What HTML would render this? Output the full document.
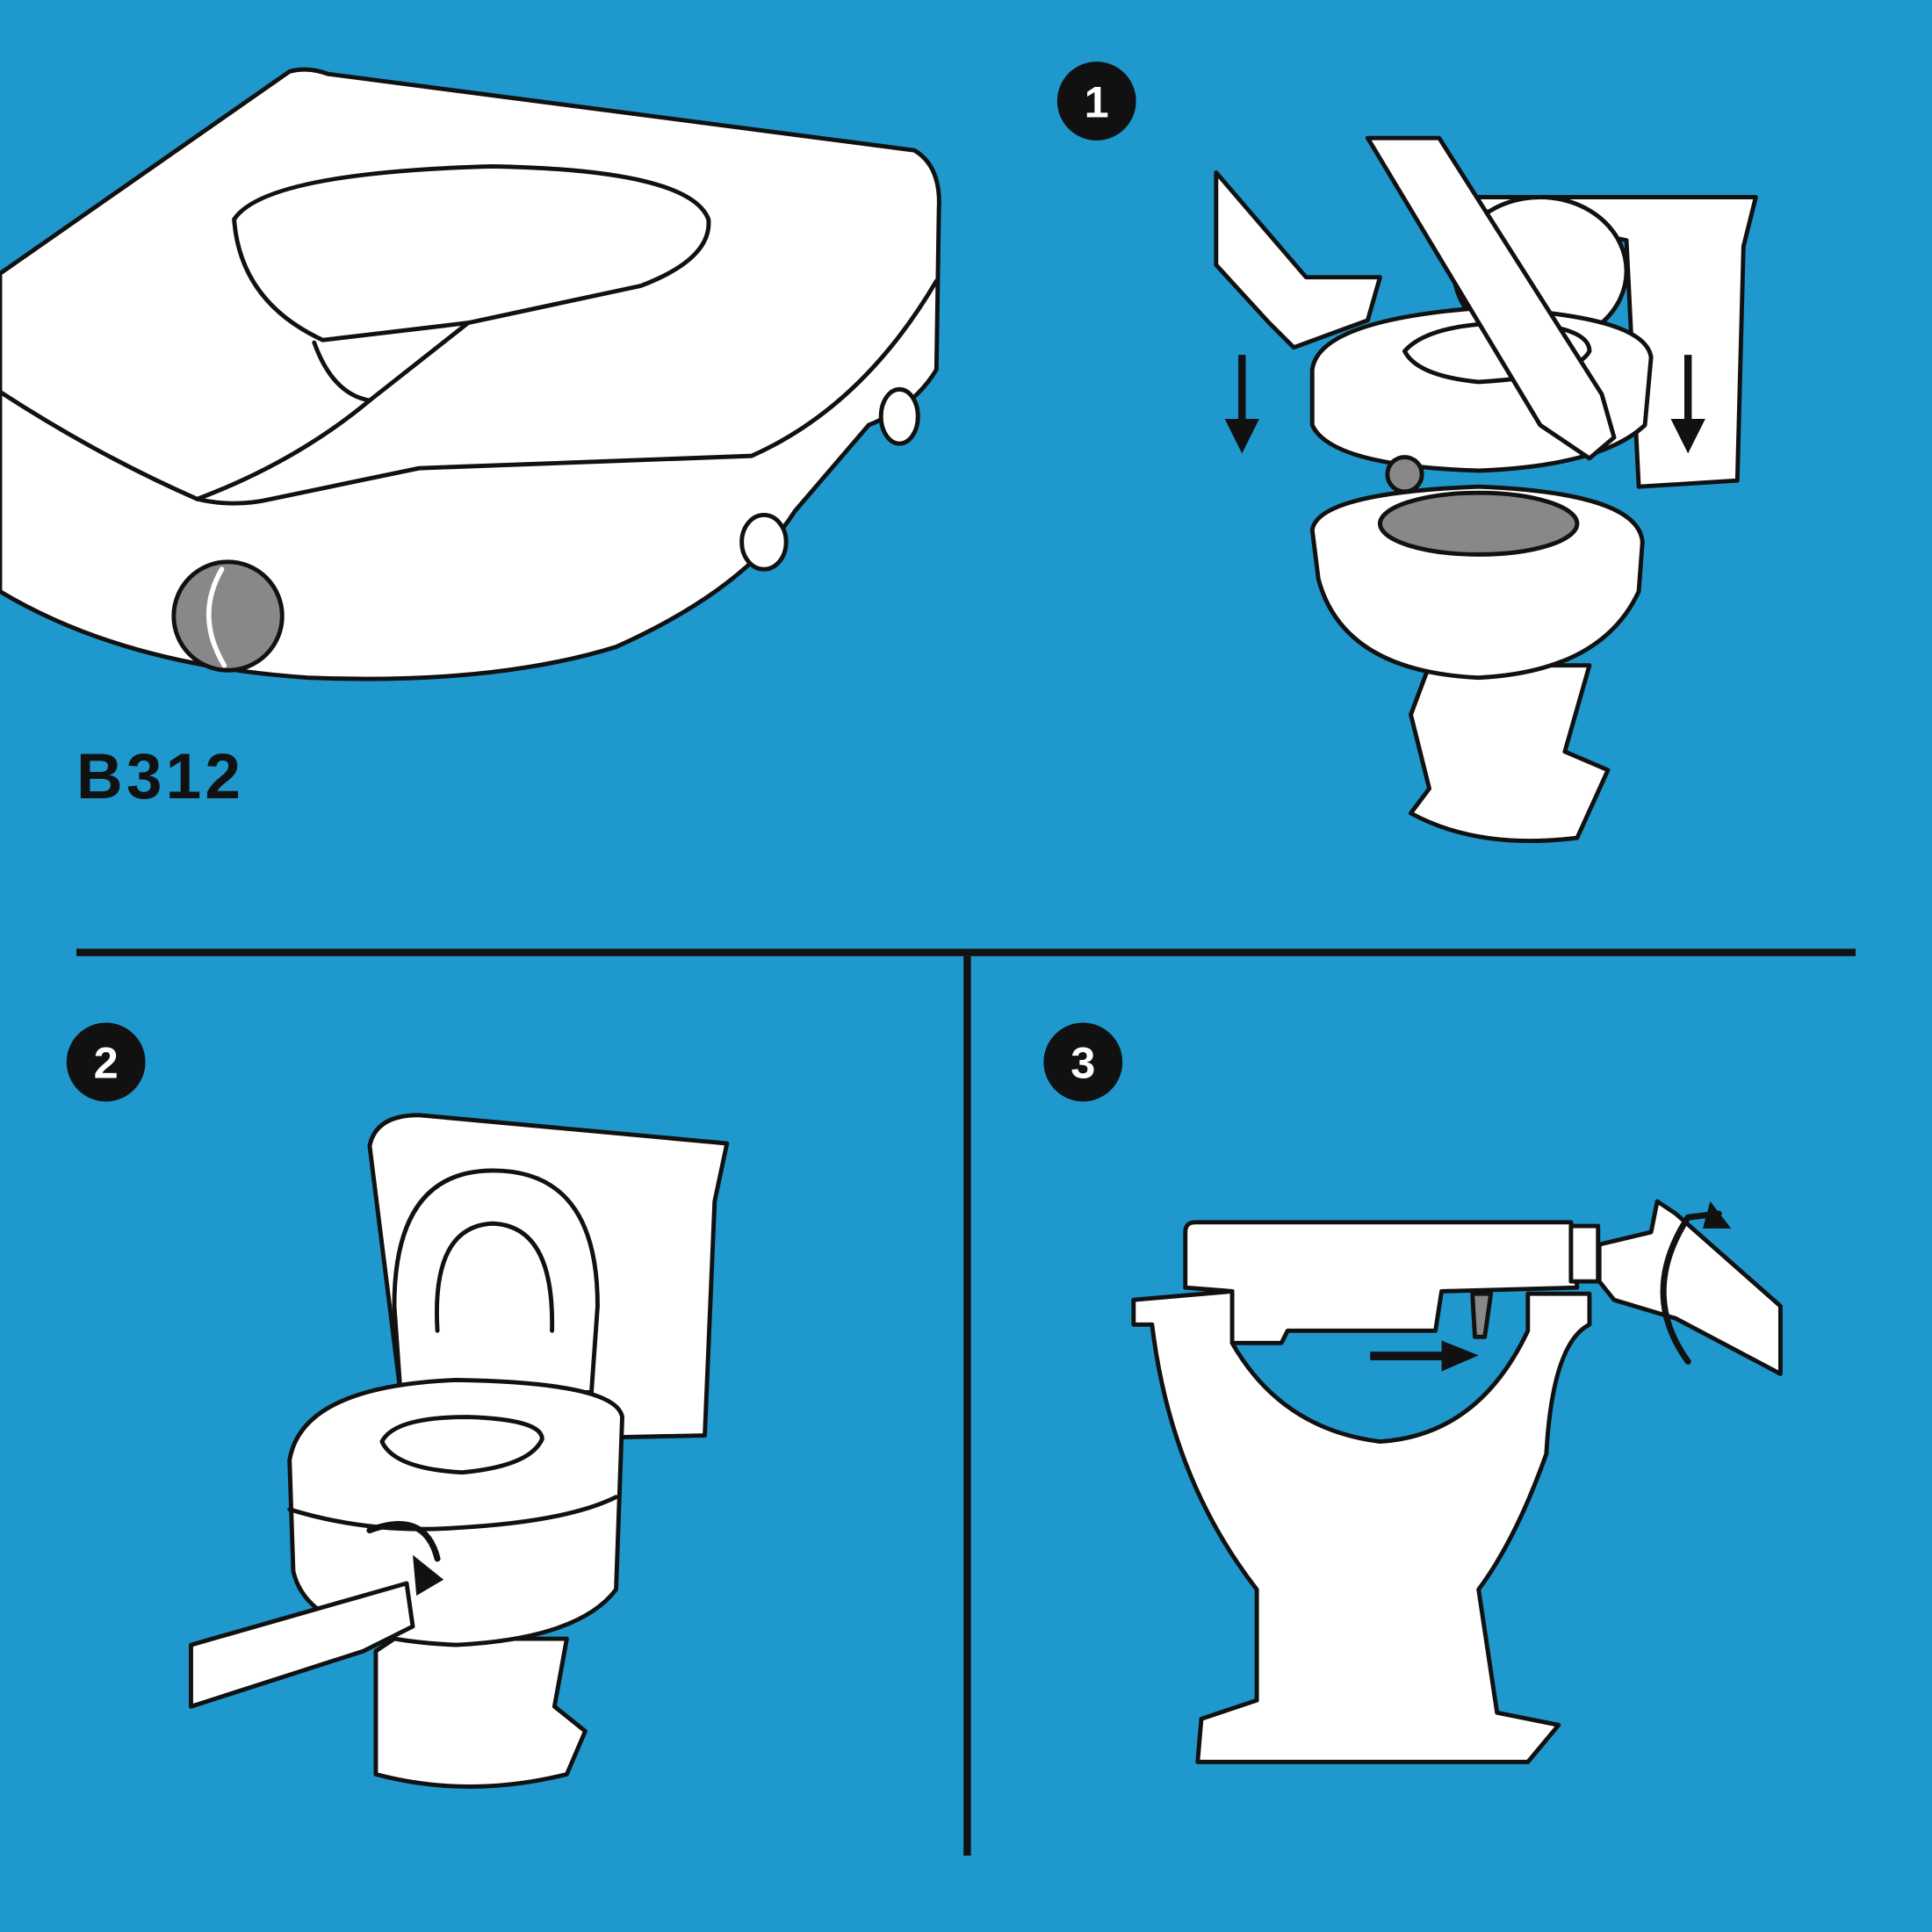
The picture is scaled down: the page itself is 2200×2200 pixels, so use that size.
<!DOCTYPE html>
<html><head><meta charset="utf-8"><style>html,body{margin:0;padding:0;background:#1f99cd}svg{display:block}</style></head>
<body>
<svg width="2200" height="2200" viewBox="0 0 1568 1568" xmlns="http://www.w3.org/2000/svg">
<rect width="1568" height="1568" fill="#1f99cd"/>
<g stroke="#111" stroke-width="3.5" stroke-linejoin="round" stroke-linecap="round">
<path d="M0,222 L235,58 Q250,54 266,60 L742,122 Q764,135 762,170 L760,300 Q742,330 705,345 L645,415 Q605,478 500,525 Q400,556 250,550 Q100,540 0,480 Z" fill="#fff"/>
<path d="M0,318 Q80,370 160,405 Q190,412 220,405 L340,380 Q480,375 610,370 Q700,330 760,228" fill="none"/>
<path d="M190,178 Q215,140 400,135 Q560,138 575,178 Q578,210 520,232 L380,262 L262,276 Q195,245 190,178 Z" fill="#fff"/>
<path d="M255,278 Q270,320 300,325 L380,262 M300,325 Q240,375 160,405" fill="none"/>
<circle cx="185" cy="500" r="44" fill="#888"/>
<path d="M180,462 Q158,500 182,540" stroke="#fff" stroke-width="4" fill="none"/>
<ellipse cx="730" cy="338" rx="15" ry="22" fill="#fff"/>
<ellipse cx="620" cy="440" rx="18" ry="22" fill="#fff"/>
<path d="M1150,160 L1425,160 L1415,200 L1410,390 L1330,395 L1320,195 Z" fill="#fff"/>
<ellipse cx="1250" cy="220" rx="70" ry="60" fill="#fff"/>
<path d="M1160,640 L1145,580 L1160,540 L1290,540 L1270,610 L1305,625 L1280,680 Q1200,690 1145,660 Z" fill="#fff"/>
<path d="M1065,430 Q1070,400 1200,395 Q1330,400 1333,440 L1330,480 Q1300,545 1200,550 Q1090,545 1070,470 Z" fill="#fff"/>
<ellipse cx="1200" cy="425" rx="80" ry="25" fill="#888"/>
<path d="M1065,300 Q1070,260 1200,250 Q1335,255 1340,290 L1335,345 Q1300,378 1200,382 Q1080,378 1065,345 Z" fill="#fff"/>
<path d="M1140,285 Q1160,262 1230,262 Q1290,265 1290,285 Q1280,305 1200,310 Q1150,305 1140,285 Z" fill="#fff"/>
<circle cx="1140" cy="385" r="14" fill="#888"/>
<path d="M1110,112 L1168,112 L1300,320 L1310,355 L1290,372 L1250,345 Z" fill="#fff"/>
<path d="M987,140 L1060,225 L1120,225 L1110,260 L1050,282 L1030,262 L987,215 Z" fill="#fff"/>
</g>
<g fill="#111">
<rect x="1005" y="288" width="6" height="55"/><path d="M994,340 L1022,340 L1008,368 Z"/>
<rect x="1367" y="288" width="6" height="55"/><path d="M1356,340 L1384,340 L1370,368 Z"/>
<rect x="62" y="770" width="1444" height="6"/>
<rect x="782" y="776" width="6" height="730"/>
<circle cx="890" cy="82" r="32"/><circle cx="86" cy="862" r="32"/><circle cx="879" cy="862" r="32"/>
</g>
<g fill="#fff" font-family="Liberation Sans, sans-serif" font-weight="bold" font-size="36" text-anchor="middle">
<text x="890" y="95">1</text><text x="86" y="875">2</text><text x="879" y="875">3</text>
</g>
<text x="62" y="648" font-family="Liberation Sans, sans-serif" font-weight="bold" font-size="52" letter-spacing="3" fill="#111">B312</text>
<g stroke="#111" stroke-width="3.5" stroke-linejoin="round" stroke-linecap="round">
<path d="M300,930 Q305,905 340,905 L590,928 L580,975 L572,1165 L330,1170 Z" fill="#fff"/>
<path d="M320,1060 Q320,950 400,950 Q485,950 485,1060 L480,1130 L325,1130 Z" fill="#fff"/>
<path d="M355,1080 Q350,995 400,993 Q450,995 448,1080" fill="none"/>
<path d="M305,1340 L320,1330 L460,1330 L450,1385 L475,1405 L460,1440 Q380,1460 305,1440 Z" fill="#fff"/>
<path d="M235,1185 Q245,1125 370,1120 Q500,1122 505,1150 L500,1290 Q470,1330 370,1335 Q250,1330 238,1275 Z" fill="#fff"/>
<path d="M310,1170 Q320,1150 380,1150 Q440,1152 440,1168 Q430,1190 375,1195 Q320,1192 310,1170 Z" fill="#fff"/>
<path d="M235,1225 Q300,1245 370,1240 Q460,1235 500,1215" fill="none"/>
<path d="M155,1335 L295,1295 L330,1285 L335,1320 L295,1340 L155,1385 Z" fill="#fff"/>
<path d="M300,1242 Q345,1225 355,1265" fill="none" stroke-width="5"/>
<path d="M962,1000 Q962,992 970,992 L1275,992 L1280,1045 L1170,1048 L1165,1080 L1045,1080 L1040,1090 L1000,1090 L1000,1048 L962,1045 Z" fill="#fff"/>
<rect x="1275" y="995" width="22" height="45" fill="#fff"/>
<path d="M920,1055 L1000,1048 L1000,1090 Q1040,1160 1120,1170 Q1200,1165 1240,1080 L1240,1050 L1290,1050 L1290,1075 Q1260,1090 1255,1180 Q1230,1250 1200,1290 L1215,1390 L1265,1400 L1240,1430 L972,1430 L975,1395 L1020,1380 L1020,1290 Q950,1200 935,1075 L920,1075 Z" fill="#fff"/>
<path d="M1195,1050 L1210,1050 L1205,1085 L1197,1085 Z" fill="#888"/>
<path d="M1298,1010 L1340,1000 L1345,975 L1360,985 L1445,1060 L1445,1115 L1360,1070 L1310,1055 L1298,1040 Z" fill="#fff"/>
<path d="M1370,1105 Q1330,1050 1370,988 L1395,985" fill="none" stroke-width="5"/>
</g>
<g fill="#111">
<rect x="1112" y="1097" width="62" height="7"/><path d="M1170,1088 L1200,1100 L1170,1113 Z"/>
<path d="M1388,975 L1405,997 L1382,997 Z"/>
<path d="M335,1262 L360,1282 L338,1295 Z"/>
</g>
</svg>
</body></html>
